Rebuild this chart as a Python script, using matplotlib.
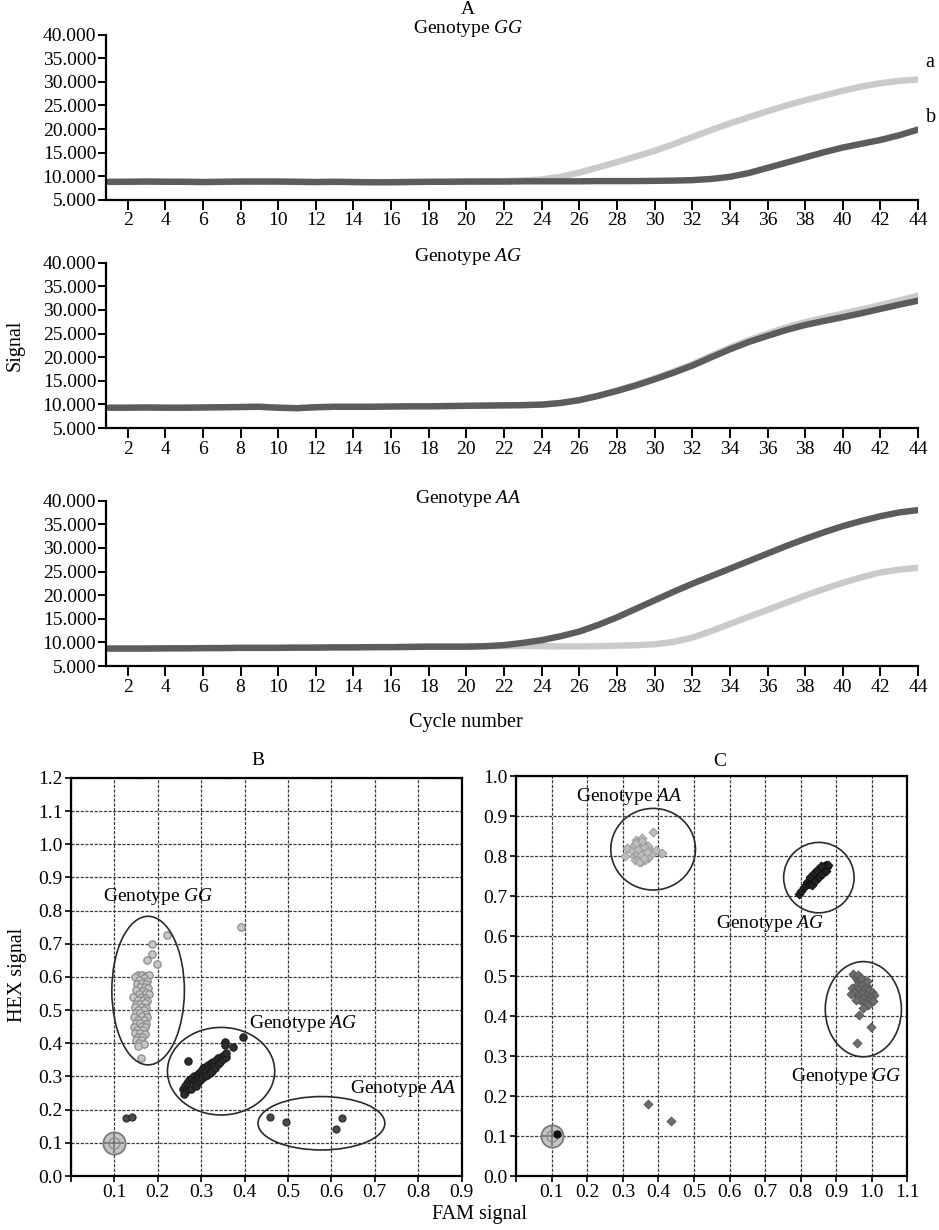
import matplotlib
matplotlib.use('Agg')
import matplotlib.pyplot as plt
from matplotlib.patches import Ellipse
from matplotlib.ticker import FuncFormatter

plt.rcParams['font.family'] = ['Liberation Serif', 'DejaVu Serif']
plt.rcParams['mathtext.fontset'] = 'custom'
plt.rcParams['mathtext.rm'] = 'Liberation Serif'
plt.rcParams['mathtext.it'] = 'Liberation Serif:italic'
plt.rcParams['font.size'] = 14

# ---- amplification curves (cycles 1..44) ----
cycles = list(range(1, 45))

gg_a = [8800, 8850, 8900, 8900, 8850, 8800, 8850, 8900, 8950, 8900, 8850, 8800, 8850, 8800, 8750,
        8800, 8850, 8850, 8900, 8900, 8950, 9000, 9100, 9350, 9900, 10800, 11900, 13000, 14200, 15400,
        16800, 18300, 19800, 21200, 22500, 23800, 25000, 26100, 27100, 28100, 29000, 29700, 30200, 30500]
gg_b = [8850, 8850, 8900, 8850, 8850, 8800, 8850, 8900, 8900, 8900, 8850, 8800, 8850, 8800, 8750,
        8750, 8800, 8850, 8850, 8900, 8900, 8900, 8950, 8950, 8950, 8950, 9000, 9000, 9000, 9050,
        9100, 9200, 9450, 9900, 10700, 11800, 12900, 14000, 15100, 16100, 16900, 17700, 18700, 19900]

ag_light = [9300, 9300, 9350, 9300, 9300, 9350, 9400, 9450, 9500, 9300, 9200, 9400, 9500, 9500, 9500,
            9550, 9600, 9600, 9650, 9700, 9750, 9800, 9850, 9950, 10300, 10900, 11850, 12950, 14150, 15500,
            16950, 18500, 20300, 22000, 23600, 25000, 26300, 27400, 28300, 29200, 30100, 31000, 32000, 33000]
ag_dark = [9300, 9300, 9350, 9300, 9300, 9350, 9400, 9450, 9500, 9300, 9200, 9400, 9500, 9500, 9500,
           9550, 9600, 9600, 9650, 9700, 9750, 9800, 9850, 9950, 10300, 10900, 11800, 12850, 14000, 15300,
           16700, 18200, 19950, 21650, 23200, 24500, 25750, 26800, 27650, 28450, 29300, 30200, 31100, 31950]

aa_light = [8700, 8700, 8700, 8750, 8750, 8800, 8800, 8850, 8850, 8850, 8900, 8900, 8950, 8950, 9000,
            9000, 9050, 9100, 9100, 9100, 9150, 9200, 9250, 9200, 9150, 9150, 9200, 9300, 9400, 9600,
            10100, 11000, 12400, 13900, 15400, 16900, 18400, 19900, 21300, 22600, 23800, 24800, 25400, 25800]
aa_dark = [8700, 8700, 8700, 8750, 8750, 8800, 8800, 8850, 8850, 8850, 8900, 8900, 8950, 8950, 9000,
           9000, 9050, 9100, 9100, 9100, 9200, 9430, 9900, 10480, 11300, 12300, 13700, 15300, 17100, 18900,
           20700, 22400, 24000, 25600, 27200, 28800, 30400, 31900, 33300, 34600, 35700, 36700, 37500, 38000]

curve_titles = ['Genotype $GG$', 'Genotype $AG$', 'Genotype $AA$']
y_ticks = [5000, 10000, 15000, 20000, 25000, 30000, 35000, 40000]
x_ticks = list(range(2, 45, 2))

# ---- allelic discrimination plot B (FAM, HEX) ----
b_gg = [(0.155, 0.605), (0.163, 0.606), (0.172, 0.604), (0.180, 0.605), (0.148, 0.600), (0.168, 0.598),
        (0.158, 0.590), (0.176, 0.589), (0.152, 0.580), (0.165, 0.581), (0.174, 0.578), (0.160, 0.570),
        (0.170, 0.571), (0.178, 0.568), (0.150, 0.560), (0.166, 0.559), (0.157, 0.550), (0.172, 0.551),
        (0.180, 0.548), (0.143, 0.540), (0.162, 0.541), (0.170, 0.538), (0.155, 0.530), (0.166, 0.531),
        (0.176, 0.528), (0.150, 0.520), (0.160, 0.519), (0.171, 0.521), (0.147, 0.510), (0.163, 0.511),
        (0.174, 0.508), (0.155, 0.500), (0.168, 0.501), (0.150, 0.490), (0.160, 0.491), (0.172, 0.488),
        (0.146, 0.480), (0.165, 0.481), (0.175, 0.478), (0.155, 0.470), (0.168, 0.471), (0.149, 0.460),
        (0.160, 0.461), (0.172, 0.458), (0.145, 0.450), (0.163, 0.451), (0.170, 0.448), (0.152, 0.440),
        (0.166, 0.441), (0.148, 0.430), (0.160, 0.431), (0.170, 0.428), (0.155, 0.420), (0.165, 0.419),
        (0.150, 0.410), (0.162, 0.409), (0.158, 0.400), (0.168, 0.398), (0.155, 0.392), (0.162, 0.356),
        (0.175, 0.650), (0.188, 0.668), (0.199, 0.640), (0.187, 0.698), (0.222, 0.726), (0.393, 0.750)]
b_ag = [(0.258, 0.262), (0.262, 0.272), (0.265, 0.258), (0.268, 0.280), (0.270, 0.266), (0.272, 0.290),
        (0.274, 0.275), (0.277, 0.262), (0.278, 0.285), (0.280, 0.296), (0.282, 0.278), (0.284, 0.300),
        (0.286, 0.288), (0.288, 0.272), (0.290, 0.305), (0.291, 0.292), (0.293, 0.282), (0.295, 0.312),
        (0.296, 0.298), (0.298, 0.288), (0.300, 0.318), (0.301, 0.305), (0.303, 0.295), (0.305, 0.325),
        (0.306, 0.312), (0.308, 0.300), (0.310, 0.330), (0.312, 0.318), (0.314, 0.306), (0.316, 0.335),
        (0.318, 0.322), (0.320, 0.312), (0.322, 0.340), (0.324, 0.328), (0.326, 0.318), (0.328, 0.345),
        (0.330, 0.333), (0.333, 0.325), (0.335, 0.350), (0.338, 0.338), (0.340, 0.355), (0.343, 0.345),
        (0.346, 0.360), (0.350, 0.352), (0.353, 0.365), (0.357, 0.358), (0.358, 0.372), (0.262, 0.252),
        (0.260, 0.248), (0.270, 0.348), (0.355, 0.404), (0.374, 0.388), (0.397, 0.419), (0.356, 0.396)]
b_aa = [(0.459, 0.177), (0.495, 0.163), (0.611, 0.141), (0.624, 0.174)]
b_other = [(0.127, 0.174), (0.141, 0.179)]
b_ntc = (0.1, 0.1)
b_ellipses = [((0.178, 0.559), 0.167, 0.448), ((0.346, 0.316), 0.247, 0.264), ((0.577, 0.159), 0.292, 0.161)]
b_labels = [(0.075, 0.843, 'Genotype $GG$'), (0.41, 0.461, 'Genotype $AG$'), (0.642, 0.265, 'Genotype $AA$')]

# ---- allelic discrimination plot C ----
c_aa = [(0.312, 0.821), (0.307, 0.800), (0.325, 0.812), (0.332, 0.828), (0.338, 0.840), (0.345, 0.835),
        (0.350, 0.822), (0.355, 0.845), (0.360, 0.830), (0.366, 0.818), (0.372, 0.826), (0.378, 0.812),
        (0.386, 0.861), (0.410, 0.807), (0.330, 0.800), (0.340, 0.805), (0.348, 0.812), (0.356, 0.806),
        (0.364, 0.800), (0.370, 0.796), (0.335, 0.790), (0.345, 0.795), (0.352, 0.786), (0.362, 0.790),
        (0.374, 0.800), (0.382, 0.808), (0.342, 0.818), (0.350, 0.802), (0.358, 0.823), (0.368, 0.810),
        (0.338, 0.832), (0.354, 0.838), (0.392, 0.815), (0.344, 0.784), (0.360, 0.794)]
c_ag = [(0.795, 0.704), (0.800, 0.712), (0.810, 0.722), (0.815, 0.728), (0.818, 0.735), (0.822, 0.730),
        (0.825, 0.740), (0.828, 0.733), (0.830, 0.745), (0.833, 0.738), (0.835, 0.750), (0.838, 0.743),
        (0.840, 0.755), (0.842, 0.748), (0.845, 0.760), (0.847, 0.752), (0.850, 0.765), (0.852, 0.757),
        (0.855, 0.768), (0.857, 0.760), (0.860, 0.772), (0.862, 0.764), (0.865, 0.775), (0.868, 0.768),
        (0.870, 0.778), (0.873, 0.772), (0.876, 0.778), (0.826, 0.748), (0.836, 0.757), (0.846, 0.766),
        (0.856, 0.775), (0.831, 0.728), (0.841, 0.738), (0.851, 0.748), (0.861, 0.756), (0.871, 0.762)]
c_gg = [(0.948, 0.505), (0.955, 0.495), (0.962, 0.488), (0.958, 0.478), (0.945, 0.470), (0.952, 0.462),
        (0.965, 0.470), (0.972, 0.480), (0.978, 0.468), (0.985, 0.475), (0.992, 0.465), (1.000, 0.460),
        (1.006, 0.452), (0.995, 0.448), (0.982, 0.455), (0.970, 0.458), (0.960, 0.450), (0.975, 0.445),
        (0.988, 0.440), (1.002, 0.438), (0.980, 0.432), (0.968, 0.440), (0.990, 0.428), (0.975, 0.420),
        (0.962, 0.502), (0.970, 0.495), (0.985, 0.488), (0.940, 0.455), (0.955, 0.440),
        (0.959, 0.333), (0.997, 0.372), (0.965, 0.4025), (0.370, 0.179), (0.436, 0.1375)]
c_black = (0.116, 0.104)
c_ntc = (0.1, 0.1)
c_ellipses = [((0.385, 0.817), 0.238, 0.204), ((0.851, 0.746), 0.198, 0.176), ((0.976, 0.417), 0.214, 0.238)]
c_labels = [(0.168, 0.948, 'Genotype $AA$'), (0.563, 0.632, 'Genotype $AG$'), (0.774, 0.248, 'Genotype $GG$')]

LIGHT = '#cacaca'
DARK = '#5c5c5c'

fig = plt.figure(figsize=(9.39, 12.3), dpi=100)

curve_sets = [(gg_a, gg_b), (ag_light, ag_dark), (aa_light, aa_dark)]
bottoms = [0.8374, 0.6520, 0.4585]
title_y = [0.9772, 0.7915, 0.5950]
for i, (light, dark) in enumerate(curve_sets):
    ax = fig.add_axes([0.1129, bottoms[i], 0.8648, 0.1345])
    ax.plot(cycles, light, color=LIGHT, lw=4.6, solid_capstyle='round', solid_joinstyle='round')
    ax.plot(cycles, dark, color=DARK, lw=4.6, solid_capstyle='round', solid_joinstyle='round')
    ax.set_xlim(0.85, 44)
    ax.set_ylim(5000, 40000)
    ax.set_xticks(x_ticks)
    ax.set_yticks(y_ticks)
    ax.yaxis.set_major_formatter(FuncFormatter(lambda v, p: f"{int(v):,}".replace(',', '.')))
    for s in ['top', 'right']:
        ax.spines[s].set_visible(False)
    for s in ['left', 'bottom']:
        ax.spines[s].set_linewidth(1.6)
    ax.tick_params(axis='x', length=7, width=1.4, pad=2, labelsize=14)
    ax.tick_params(axis='y', length=6, width=1.4, pad=1, labelsize=14)
    fig.text(0.4984, title_y[i], curve_titles[i], ha='center', va='center', fontsize=14)
    if i == 0:
        ax.text(44.4, 34100, 'a', ha='left', va='center', fontsize=14.5, clip_on=False)
        ax.text(44.4, 22400, 'b', ha='left', va='center', fontsize=14.5, clip_on=False)

fig.text(0.4984, 0.9919, 'A', ha='center', va='center', fontsize=14)
fig.text(0.016, 0.7195, 'Signal', ha='center', va='center', rotation=90, fontsize=14.5)
fig.text(0.496, 0.413, 'Cycle number', ha='center', va='center', fontsize=14.5)


def scatter_frame(ax, xmax, ymax, yticks):
    ax.set_xlim(0, xmax)
    ax.set_ylim(0, ymax)
    n = int(round(xmax * 10))
    xt = [k / 10 for k in range(0, n + 1)]
    ax.set_xticks(xt)
    ax.set_xticklabels([''] + [f"{v:.1f}" for v in xt[1:]])
    ax.set_yticks(yticks)
    ax.set_yticklabels([f"{v:.1f}" for v in yticks])
    ax.grid(True, linestyle=(0, (2.5, 1.2)), color='#3a3a3a', lw=0.9)
    ax.set_axisbelow(True)
    for s in ax.spines.values():
        s.set_linewidth(1.6)
    ax.tick_params(length=4, width=1.2, pad=2, labelsize=14)


def draw_ntc(ax, pt):
    ax.plot(pt[0], pt[1], 'o', ms=16, mfc='#c4c4c4', mec='#7a7a7a', mew=1.3, zorder=4)
    ax.plot(pt[0], pt[1], '+', ms=15, mec='#6a6a6a', mew=1.1, zorder=5)
    ax.plot(pt[0], pt[1], 'o', ms=8, mfc='none', mec='#8a8a8a', mew=0.9, zorder=5)


# B
axb = fig.add_axes([0.0754, 0.0439, 0.4163, 0.3236])
scatter_frame(axb, 0.9, 1.2, [k / 10 for k in range(0, 13)])
axb.scatter([p[0] for p in b_gg], [p[1] for p in b_gg], s=28, c='#c6c6c6', edgecolors='#8c8c8c', linewidths=0.9, zorder=3)
axb.scatter([p[0] for p in b_ag], [p[1] for p in b_ag], s=28, c='#2e2e2e', edgecolors='#1a1a1a', linewidths=0.8, zorder=3)
axb.scatter([p[0] for p in b_aa + b_other], [p[1] for p in b_aa + b_other], s=26, c='#4a4a4a', edgecolors='#2a2a2a', linewidths=0.8, zorder=3)
draw_ntc(axb, b_ntc)
for (cx, cy), w, h in b_ellipses:
    axb.add_patch(Ellipse((cx, cy), w, h, fill=False, edgecolor='#2a2a2a', lw=1.2, zorder=4))
for x, y, t in b_labels:
    axb.text(x, y, t, ha='left', va='center', fontsize=14, zorder=6)

# C
axc = fig.add_axes([0.5497, 0.0439, 0.4167, 0.3252])
scatter_frame(axc, 1.1, 1.0, [k / 10 for k in range(0, 11)])
axc.scatter([p[0] for p in c_aa], [p[1] for p in c_aa], s=20, marker='D', c='#bdbdbd', edgecolors='#9a9a9a', linewidths=0.7, zorder=3)
axc.scatter([p[0] for p in c_ag], [p[1] for p in c_ag], s=20, marker='D', c='#222222', edgecolors='#111111', linewidths=0.7, zorder=3)
axc.scatter([p[0] for p in c_gg], [p[1] for p in c_gg], s=20, marker='D', c='#6e6e6e', edgecolors='#555555', linewidths=0.7, zorder=3)
draw_ntc(axc, c_ntc)
axc.plot(c_black[0], c_black[1], 'o', ms=5, color='#111111', zorder=6)
for (cx, cy), w, h in c_ellipses:
    axc.add_patch(Ellipse((cx, cy), w, h, fill=False, edgecolor='#2a2a2a', lw=1.2, zorder=4))
for x, y, t in c_labels:
    axc.text(x, y, t, ha='left', va='center', fontsize=14, zorder=6)

fig.text(0.2748, 0.382, 'B', ha='center', va='center', fontsize=14)
fig.text(0.767, 0.3805, 'C', ha='center', va='center', fontsize=14)
fig.text(0.019, 0.2073, 'HEX signal', ha='center', va='center', rotation=90, fontsize=14.5)
fig.text(0.511, 0.0122, 'FAM signal', ha='center', va='center', fontsize=14.5)

fig.savefig('out.png', dpi=100)
